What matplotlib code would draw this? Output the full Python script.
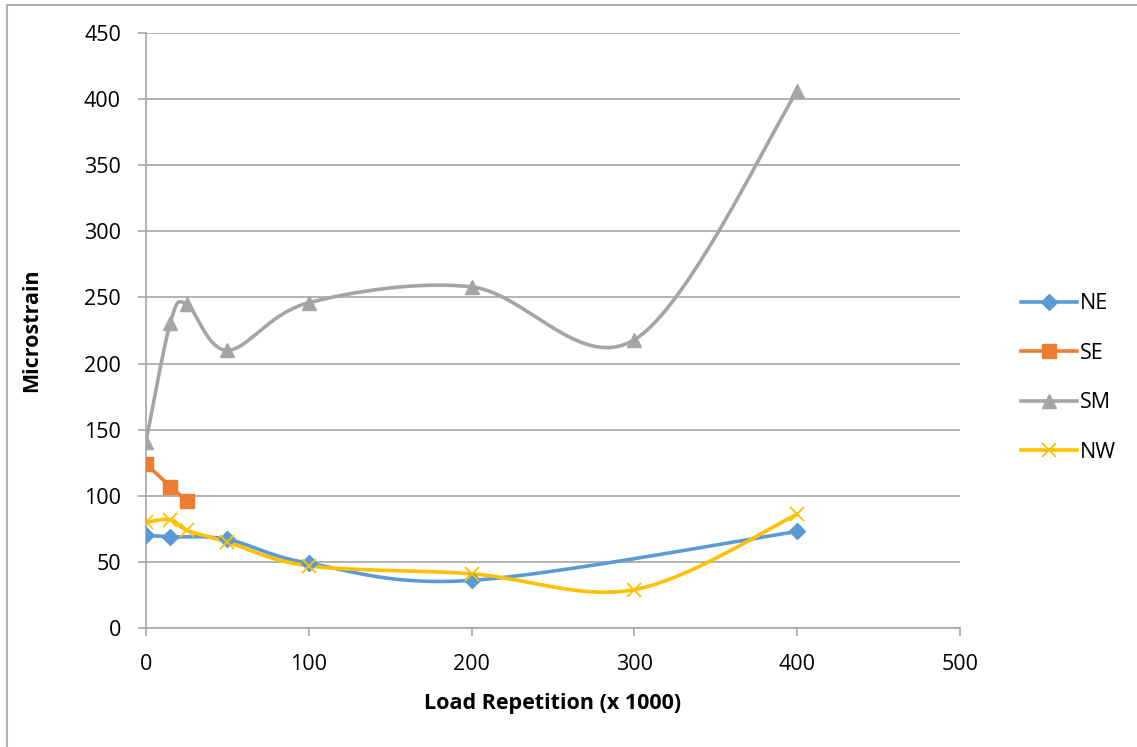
import numpy as np
import matplotlib.pyplot as plt
from matplotlib.lines import Line2D

plt.rcParams['font.family'] = ['Open Sans', 'DejaVu Sans']

# data
ne_x = [0, 15, 50, 100, 200, 400]
ne_y = [70, 69, 67, 49, 36, 73]

se_x = [0, 15, 25]
se_y = [124, 107, 96]

sm_x = [0, 15, 25, 50, 100, 200, 300, 400]
sm_y = [141, 231, 245, 210, 246, 258, 218, 406]

nw_x = [0, 15, 25, 50, 100, 200, 300, 400]
nw_y = [80, 82, 74, 65, 47, 41, 29, 86]

x_ticks = [0, 100, 200, 300, 400, 500]
y_ticks = list(range(0, 451, 50))

# scale to approx screen units so the smoothing looks like Excel's
SX = 814 / 500
SY = 595 / 450


def excel_smooth(xs, ys, n=40):
    """Catmull-Rom style bezier smoothing (like Excel's smoothed line)"""
    p = np.column_stack([np.array(xs) * SX, np.array(ys) * SY]).astype(float)
    if len(p) < 3:
        return np.array(xs), np.array(ys)
    pts = np.vstack([p[0], p, p[-1]])
    t = np.linspace(0, 1, n)[:, None]
    out = []
    for i in range(1, len(pts) - 2):
        p0, p1, p2, p3 = pts[i - 1], pts[i], pts[i + 1], pts[i + 2]
        c1 = p1 + (p2 - p0) / 6
        c2 = p2 - (p3 - p1) / 6
        seg = ((1 - t) ** 3 * p1 + 3 * (1 - t) ** 2 * t * c1
               + 3 * (1 - t) * t ** 2 * c2 + t ** 3 * p2)
        out.append(seg if i == 1 else seg[1:])
    out = np.vstack(out)
    return out[:, 0] / SX, out[:, 1] / SY


fig = plt.figure(figsize=(11.37, 7.47), dpi=100)
ax = fig.add_axes([146 / 1137, 1 - 628 / 747, 814 / 1137, 595 / 747])

grid_c = '#A6A6A6'
fs = 15.5
series = [
    ('NE', ne_x, ne_y, '#5B9BD5', 'D', 8, True),
    ('SE', se_x, se_y, '#ED7D31', 's', 10, False),
    ('SM', sm_x, sm_y, '#A5A5A5', '^', 10, True),
    ('NW', nw_x, nw_y, '#FFC000', 'x', 10, True),
]

handles = []
for name, xs, ys, col, mk, ms, smooth in series:
    if smooth:
        sx, sy = excel_smooth(xs, ys)
    else:
        sx, sy = xs, ys
    ax.plot(sx, sy, color=col, linewidth=2.6, solid_capstyle='round', zorder=3)
    if mk == 'x':
        ax.plot(xs, ys, linestyle='none', marker=mk, markersize=ms,
                markeredgecolor=col, markeredgewidth=1.3, zorder=4)
    else:
        ax.plot(xs, ys, linestyle='none', marker=mk, markersize=ms,
                color=col, markeredgecolor=col, zorder=4)
    handles.append(Line2D([0], [0], color=col, linewidth=2.6, marker=mk,
                          markersize=ms, markeredgecolor=col,
                          markeredgewidth=1.3 if mk == 'x' else 1.0))

ax.set_xlim(0, 500)
ax.set_ylim(0, 450)
ax.set_xticks(x_ticks)
ax.set_yticks(y_ticks)
ax.yaxis.grid(True, color=grid_c, linewidth=1.2)
ax.set_axisbelow(True)
for s in ['top', 'right']:
    ax.spines[s].set_visible(False)
for s in ['left', 'bottom']:
    ax.spines[s].set_color(grid_c)
    ax.spines[s].set_linewidth(1.2)
ax.tick_params(axis='both', colors=grid_c, length=6, width=1.2,
               labelcolor='black', labelsize=fs)
ax.tick_params(axis='y', pad=12)
ax.tick_params(axis='x', pad=13)

ax.set_xlabel('Load Repetition (x 1000)', fontsize=fs, fontweight='bold')
ax.set_ylabel('Microstrain', fontsize=fs, fontweight='bold')
ax.xaxis.set_label_coords(0.5, -(703 - 628) / 595)
ax.xaxis.label.set_va('center')
ax.yaxis.set_label_coords(-(146 - 32) / 814, 0.5)
ax.yaxis.label.set_va('center')

leg = fig.legend(handles, [s[0] for s in series], loc='center left',
                 bbox_to_anchor=(1002 / 1137, 1 - 378 / 747), frameon=False,
                 fontsize=fs, handlelength=2.6, handletextpad=0.1,
                 labelspacing=1.33)

# chart border (partly cut off on the right / bottom)
fig.add_artist(Line2D([7 / 1137, 7 / 1137], [0, 1 - 5 / 747],
                      transform=fig.transFigure, color='#B0B0B0', linewidth=1.5))
fig.add_artist(Line2D([7 / 1137, 1], [1 - 5 / 747, 1 - 5 / 747],
                      transform=fig.transFigure, color='#B0B0B0', linewidth=1.5))

fig.savefig('out.png', dpi=100, facecolor='white')
